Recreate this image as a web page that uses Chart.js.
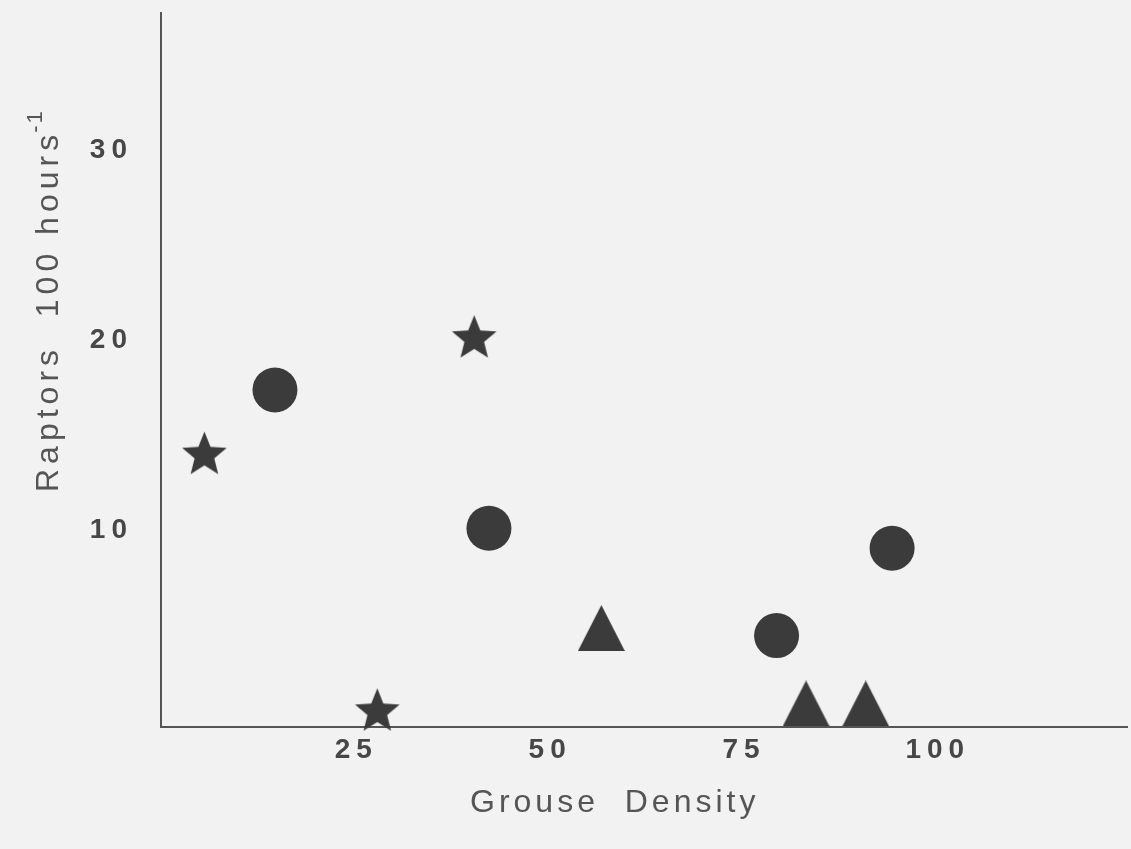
<!DOCTYPE html>
<html>
<head>
<meta charset="utf-8">
<script src="https://cdn.jsdelivr.net/npm/chart.js@4/dist/chart.umd.min.js"></script>
<style>
  body { margin: 0; background: #f2f2f2; }
  canvas { display: block; }
</style>
</head>
<body>
<canvas id="raptorChart" width="1131" height="849"></canvas>
<script>
// grouse density vs raptor sightings, three groups of moors
const starX = [5.4, 27.7, 40.2];
const starY = [13.96, 0.45, 20.09];
const circleX = [14.5, 42.1, 79.2, 94.1];
const circleY = [17.39, 10.11, 4.46, 9.06];
const triangleX = [56.6, 83.0, 90.7];
const triangleY = [4.86, 0.89, 0.89];

const xTicks = [25, 50, 75, 100];
const yTicks = [10, 20, 30];
const xTitle = "Grouse  Density";
const yTitle = "Raptors  100 hours";
const yTitleSup = "-1";

const markColor = "#3b3b3b";

function pairs(xs, ys) {
  return xs.map((x, i) => ({ x: x, y: ys[i] }));
}

// filled five-point star (the built-in "star" is only strokes)
function makeStar(r) {
  const c = document.createElement("canvas");
  c.width = c.height = Math.ceil(r * 2 + 2);
  const g = c.getContext("2d");
  g.fillStyle = markColor;
  g.beginPath();
  for (let i = 0; i < 10; i++) {
    const rad = i % 2 === 0 ? r : r * 0.44;
    const a = -Math.PI / 2 + i * Math.PI / 5;
    const px = c.width / 2 + Math.cos(a) * rad;
    const py = c.height / 2 + Math.sin(a) * rad;
    if (i === 0) g.moveTo(px, py); else g.lineTo(px, py);
  }
  g.closePath();
  g.fill();
  return c;
}

function makeTriangle(w, h) {
  const c = document.createElement("canvas");
  c.width = w;
  c.height = h;
  const g = c.getContext("2d");
  g.fillStyle = markColor;
  g.beginPath();
  g.moveTo(w / 2, 0);
  g.lineTo(w, h);
  g.lineTo(0, h);
  g.closePath();
  g.fill();
  return c;
}

const axisTitles = {
  id: "axisTitles",
  beforeDraw(chart) {
    chart.ctx.letterSpacing = "6px";
  },
  afterDraw(chart) {
    const ctx = chart.ctx;
    ctx.save();
    ctx.letterSpacing = "4px";
    ctx.fillStyle = "#555";
    ctx.textBaseline = "alphabetic";
    ctx.textAlign = "left";
    ctx.font = "32px 'Liberation Sans', Arial, sans-serif";
    ctx.fillText(xTitle, 470, 812);

    ctx.letterSpacing = "5px";
    ctx.translate(58, 492);
    ctx.rotate(-Math.PI / 2);
    ctx.fillText(yTitle, 0, 0);
    const w = ctx.measureText(yTitle).width;
    ctx.font = "22px 'Liberation Sans', Arial, sans-serif";
    ctx.letterSpacing = "2px";
    ctx.fillText(yTitleSup, w - 3, -16);
    ctx.restore();
  }
};

function noPad(s) {
  s.paddingTop = 0;
  s.paddingBottom = 0;
  s.paddingLeft = 0;
  s.paddingRight = 0;
}

const tickFont = { family: "'Liberation Sans', Arial, sans-serif", size: 28, weight: "bold" };

new Chart(document.getElementById("raptorChart").getContext("2d"), {
  type: "scatter",
  data: {
    datasets: [
      {
        label: "stars",
        data: pairs(starX, starY),
        pointStyle: makeStar(23.5),
        backgroundColor: markColor
      },
      {
        label: "circles",
        data: pairs(circleX, circleY),
        pointStyle: "circle",
        pointRadius: 22.5,
        backgroundColor: markColor,
        borderWidth: 0
      },
      {
        label: "triangles",
        data: pairs(triangleX, triangleY),
        pointStyle: makeTriangle(47, 46),
        backgroundColor: markColor
      }
    ]
  },
  options: {
    responsive: false,
    animation: false,
    clip: false,
    layout: { autoPadding: false, padding: { top: 13, right: 4, left: 0, bottom: 0 } },
    plugins: {
      legend: { display: false },
      tooltip: { enabled: false }
    },
    scales: {
      x: {
        type: "linear",
        min: -0.2,
        max: 124.4,
        afterBuildTicks: s => { s.ticks = xTicks.map(v => ({ value: v })); },
        afterFit: s => { s.height = 122; noPad(s); },
        grid: { display: false, drawTicks: false, tickLength: 0 },
        border: { display: true, color: "#555", width: 2 },
        ticks: { font: tickFont, color: "#474747", padding: 6, maxRotation: 0, minRotation: 0 }
      },
      y: {
        type: "linear",
        min: -0.35,
        max: 37.23,
        afterBuildTicks: s => { s.ticks = yTicks.map(v => ({ value: v })); },
        afterFit: s => { s.width = 161; noPad(s); },
        grid: { display: false, drawTicks: false, tickLength: 0 },
        border: { display: true, color: "#555", width: 2 },
        ticks: { font: tickFont, color: "#474747", padding: 28 }
      }
    }
  },
  plugins: [axisTitles]
});
</script>
</body>
</html>
